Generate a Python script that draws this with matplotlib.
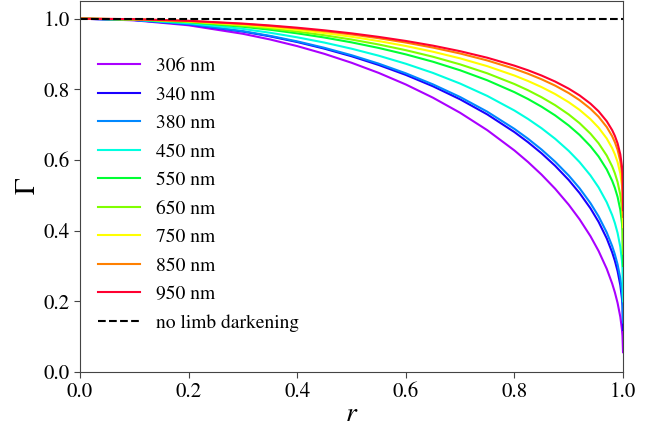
import matplotlib
matplotlib.use("Agg")
import matplotlib.pyplot as plt
import numpy as np

plt.rcParams['font.family'] = ['STIXGeneral', 'DejaVu Serif']
plt.rcParams['mathtext.fontset'] = 'stix'

# radial position r (fraction of disc radius)
r = [0, 0.1, 0.2, 0.3, 0.35, 0.4, 0.45, 0.5, 0.55, 0.6, 0.65, 0.7, 0.75, 0.8, 0.825,
     0.85, 0.875, 0.9, 0.92, 0.94, 0.955, 0.97, 0.98, 0.985, 0.99, 0.995, 0.998, 0.999, 1.0]

wavelengths = ["306 nm", "340 nm", "380 nm", "450 nm", "550 nm", "650 nm", "750 nm", "850 nm", "950 nm"]

g306 = [1.0, 0.9953, 0.9812, 0.9571, 0.9411, 0.9223, 0.9004, 0.8752, 0.8465, 0.8137, 0.7763, 0.7336, 0.6844, 0.6270, 0.5944,
        0.5585, 0.5186, 0.4734, 0.4321, 0.3845, 0.3425, 0.2921, 0.2504, 0.2253, 0.1953, 0.1560, 0.1206, 0.1026, 0.056]
g340 = [1.0, 0.9960, 0.9840, 0.9635, 0.9499, 0.9338, 0.9151, 0.8936, 0.8689, 0.8408, 0.8086, 0.7717, 0.7290, 0.6790, 0.6504,
        0.6189, 0.5836, 0.5434, 0.5064, 0.4633, 0.4249, 0.3781, 0.3387, 0.3147, 0.2854, 0.2459, 0.2085, 0.1884, 0.119]
g380 = [1.0, 0.9962, 0.9845, 0.9646, 0.9513, 0.9357, 0.9175, 0.8966, 0.8727, 0.8453, 0.8140, 0.7782, 0.7367, 0.6880, 0.6602,
        0.6295, 0.5951, 0.5560, 0.5200, 0.4779, 0.4405, 0.3949, 0.3564, 0.3329, 0.3043, 0.2655, 0.2289, 0.2090, 0.140]
g450 = [1.0, 0.9969, 0.9873, 0.9710, 0.9601, 0.9472, 0.9323, 0.9150, 0.8952, 0.8724, 0.8464, 0.8163, 0.7813, 0.7400, 0.7162,
        0.6898, 0.6600, 0.6258, 0.5940, 0.5564, 0.5225, 0.4804, 0.4441, 0.4215, 0.3934, 0.3542, 0.3152, 0.2931, 0.200]
g550 = [1.0, 0.9975, 0.9900, 0.9771, 0.9686, 0.9584, 0.9466, 0.9329, 0.9171, 0.8989, 0.8781, 0.8539, 0.8256, 0.7920, 0.7726,
        0.7508, 0.7262, 0.6976, 0.6709, 0.6390, 0.6099, 0.5733, 0.5412, 0.5209, 0.4955, 0.4590, 0.4219, 0.4001, 0.300]
g650 = [1.0, 0.9978, 0.9912, 0.9799, 0.9724, 0.9634, 0.9530, 0.9409, 0.9269, 0.9108, 0.8922, 0.8706, 0.8453, 0.8150, 0.7974,
        0.7776, 0.7551, 0.7289, 0.7042, 0.6746, 0.6473, 0.6126, 0.5820, 0.5624, 0.5376, 0.5017, 0.4643, 0.4421, 0.335]
g750 = [1.0, 0.9981, 0.9924, 0.9826, 0.9760, 0.9683, 0.9592, 0.9487, 0.9366, 0.9226, 0.9064, 0.8876, 0.8655, 0.8390, 0.8236,
        0.8063, 0.7866, 0.7635, 0.7418, 0.7156, 0.6915, 0.6608, 0.6336, 0.6161, 0.5940, 0.5618, 0.5282, 0.5080, 0.410]
g850 = [1.0, 0.9984, 0.9934, 0.9849, 0.9792, 0.9724, 0.9645, 0.9553, 0.9447, 0.9324, 0.9181, 0.9014, 0.8817, 0.8580, 0.8441,
        0.8284, 0.8105, 0.7894, 0.7693, 0.7450, 0.7224, 0.6933, 0.6672, 0.6504, 0.6288, 0.5970, 0.5633, 0.5428, 0.439]
g950 = [1.0, 0.9985, 0.9939, 0.9860, 0.9807, 0.9744, 0.9670, 0.9584, 0.9484, 0.9369, 0.9236, 0.9079, 0.8894, 0.8670, 0.8539,
        0.8390, 0.8220, 0.8019, 0.7828, 0.7595, 0.7378, 0.7097, 0.6845, 0.6681, 0.6470, 0.6159, 0.5826, 0.5623, 0.458]

series = [g306, g340, g380, g450, g550, g650, g750, g850, g950]
colors = ['#aa00ff', '#1a00ff', '#0088ff', '#00ffe0', '#00ff33', '#80ff00', '#ffff00', '#ff8000', '#ff0030']

no_ld = [1.0, 1.0]
no_ld_r = [0.0, 1.0]

fig = plt.figure(figsize=(6.59, 4.29), dpi=100)
ax = fig.add_axes([0.1214, 0.1329, 0.8240, 0.8648])

for vals, col, lab in zip(series, colors, wavelengths):
    ax.plot(r, vals, color=col, lw=1.5, label=lab)
ax.plot(no_ld_r, no_ld, color='black', lw=1.5, ls='--', label='no limb darkening')

ax.set_xlim(0, 1.0)
ax.set_ylim(0, 1.05)
ax.set_xticks([0.0, 0.2, 0.4, 0.6, 0.8, 1.0])
ax.set_yticks([0.0, 0.2, 0.4, 0.6, 0.8, 1.0])
ax.tick_params(labelsize=15, direction='out', length=4, color='#444444')
for s in ax.spines.values():
    s.set_color('#444444')

ax.set_xlabel('$r$', fontsize=20, labelpad=0)
ax.set_ylabel(r'$\Gamma$', fontsize=20, labelpad=1.5)

ax.legend(loc='center left', bbox_to_anchor=(0.0, 0.478), frameon=False,
          fontsize=14, handlelength=2.2, labelspacing=0.56)

fig.savefig('out.png', dpi=100)
